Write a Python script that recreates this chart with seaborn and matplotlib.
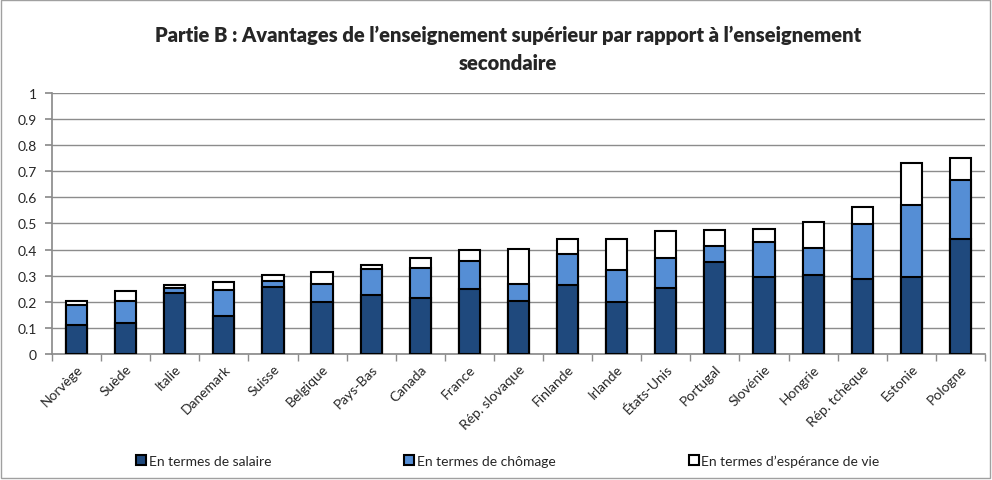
"""
plot.py — Partie B : stacked benefit bars (salary / unemployment / life expectancy).
"""

import numpy as np
import pandas as pd
import matplotlib.pyplot as plt
import matplotlib.patches as mpatches
import seaborn as sns

pays = ["Norvège", "Suède", "Italie", "Danemark", "Suisse", "Belgique", "Pays-Bas",
        "Canada", "France", "Rép. slovaque", "Finlande", "Irlande", "États-Unis",
        "Portugal", "Slovénie", "Hongrie", "Rép. tchèque", "Estonie", "Pologne"]
salaire = [0.111, 0.119, 0.232, 0.144, 0.255, 0.198, 0.225, 0.216, 0.249, 0.203,
           0.264, 0.200, 0.253, 0.351, 0.294, 0.304, 0.286, 0.296, 0.441]
chomage = [0.077, 0.084, 0.022, 0.101, 0.025, 0.069, 0.102, 0.112, 0.109, 0.065,
           0.120, 0.122, 0.114, 0.064, 0.134, 0.103, 0.211, 0.276, 0.226]
esperance = [0.014, 0.038, 0.010, 0.030, 0.024, 0.048, 0.014, 0.039, 0.042, 0.134,
             0.057, 0.119, 0.105, 0.061, 0.051, 0.097, 0.065, 0.160, 0.084]

labels = ["En termes de salaire", "En termes de chômage", "En termes d\u2019espérance de vie"]
colors = ["#1f497d", "#558ed5", "#ffffff"]

df = pd.DataFrame({"pays": pays, "salaire": salaire, "chomage": chomage, "esperance": esperance})
df["c1"] = df["salaire"]
df["c2"] = df["c1"] + df["chomage"]
df["c3"] = df["c2"] + df["esperance"]

sns.set_theme(style="white")
plt.rcParams["font.family"] = ["Lato", "DejaVu Sans"]

fig = plt.figure(figsize=(9.92, 4.81), dpi=100)
ax = fig.add_axes([0.0524, 0.262, 0.9405, 0.5426])

# draw tallest first, overlay the lower parts
for col, c in zip(["c3", "c2", "c1"], colors[::-1]):
    sns.barplot(data=df, x="pays", y=col, color=c, saturation=1, width=0.43,
                edgecolor="black", linewidth=1.5, ax=ax, zorder=3)

ax.set_ylim(0, 1)
ax.set_xlim(-0.5, len(pays) - 0.5)
ax.set_yticks(np.arange(0, 1.01, 0.1))
ax.set_yticklabels(["0", "0.1", "0.2", "0.3", "0.4", "0.5", "0.6", "0.7", "0.8", "0.9", "1"],
                   fontsize=10)
ax.yaxis.grid(True, color="#8c8c8c", linewidth=1)
ax.set_axisbelow(True)
ax.set_xlabel("")
ax.set_ylabel("")
for s in ["top", "right"]:
    ax.spines[s].set_visible(False)
ax.spines["left"].set_color("#8c8c8c")
ax.spines["bottom"].set_color("#8c8c8c")

ax.set_xticks(range(len(pays)))
ax.set_xticklabels(pays, rotation=45, ha="right", rotation_mode="anchor", fontsize=10)
ax.tick_params(axis="x", length=0, pad=6)
ax.tick_params(axis="y", length=5, color="#8c8c8c", left=True, pad=6)
# category boundary ticks
ax.set_xticks(np.arange(-0.5, len(pays), 1), minor=True)
ax.tick_params(axis="x", which="minor", length=5, color="#8c8c8c", bottom=True)

fig.text(0.512, 0.926, "Partie B : Avantages de l\u2019enseignement supérieur par rapport à l\u2019enseignement",
         ha="center", va="center", fontsize=14.5, fontweight="heavy")
fig.text(0.512, 0.868, "secondaire", ha="center", va="center", fontsize=14.5, fontweight="heavy")

handles = [mpatches.Patch(facecolor=c, edgecolor="black", linewidth=1.5) for c in colors]
fig.legend(handles, labels, ncol=3, loc="center", bbox_to_anchor=(0.512, 0.04),
           frameon=False, fontsize=10, handlelength=0.7, handleheight=0.7,
           handletextpad=0.2, columnspacing=9.6)

fig.patches.append(mpatches.Rectangle((0.001, 0.004), 0.997, 0.994, transform=fig.transFigure,
                                      fill=False, edgecolor="#a0a0a0", linewidth=1))

fig.savefig("out.png", dpi=100)
